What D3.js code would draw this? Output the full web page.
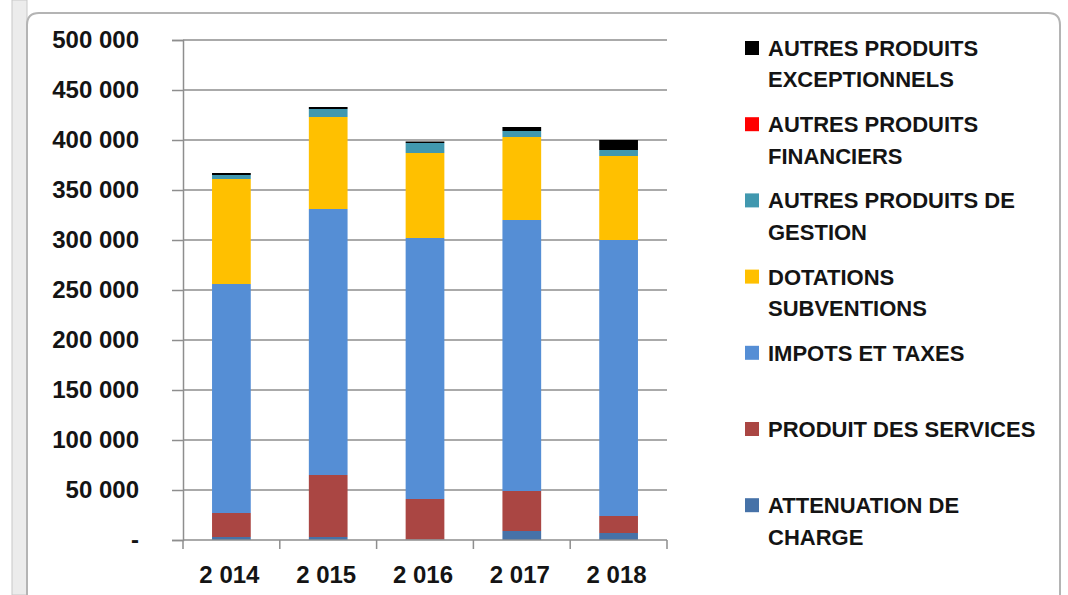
<!DOCTYPE html>
<html>
<head>
<meta charset="utf-8">
<script src="https://cdn.jsdelivr.net/npm/d3@7"></script>
<style>
  body { margin: 0; background: #fff; }
  text { font-family: "Liberation Sans", Arial, sans-serif; font-weight: bold; fill: #141414; }
</style>
</head>
<body>
<svg width="1068" height="595"></svg>
<script>
// data (bottom of the stack first)
var years = ["2 014", "2 015", "2 016", "2 017", "2 018"];
var attenuation = [3000, 3000, 500, 9000, 7000];
var services = [24000, 62000, 40500, 40000, 17000];
var impots = [229000, 266000, 261000, 271000, 276000];
var dotations = [105000, 92000, 85000, 83000, 84000];
var gestion = [4000, 8000, 10000, 6000, 6000];
var financiers = [0, 0, 0, 0, 0];
var exceptionnels = [2000, 2000, 1500, 4000, 10000];
var yTicks = [0, 50000, 100000, 150000, 200000, 250000, 300000, 350000, 400000, 450000, 500000];

var series = [
  { key: "att", lines: ["ATTENUATION DE", "CHARGE"], color: "#4672a8", values: attenuation },
  { key: "srv", lines: ["PRODUIT DES SERVICES"], color: "#aa4643", values: services },
  { key: "imp", lines: ["IMPOTS ET TAXES"], color: "#558ed5", values: impots },
  { key: "dot", lines: ["DOTATIONS", "SUBVENTIONS"], color: "#ffc000", values: dotations },
  { key: "ges", lines: ["AUTRES PRODUITS DE", "GESTION"], color: "#4198af", values: gestion },
  { key: "fin", lines: ["AUTRES PRODUITS", "FINANCIERS"], color: "#ff0000", values: financiers },
  { key: "exc", lines: ["AUTRES PRODUITS", "EXCEPTIONNELS"], color: "#000000", values: exceptionnels }
];

function main() {
  var svg = d3.select("svg");

  // frame of the chart object
  svg.append("rect").attr("x", 12).attr("y", 0).attr("width", 15).attr("height", 595)
    .attr("fill", "#ececec").attr("stroke", "#c8c8c8");
  svg.append("path")
    .attr("d", "M27,600 L27,25 Q27,13 39,13 L1048,13 Q1060,13 1060,25 L1060,600")
    .attr("fill", "#fff").attr("stroke", "#b4b4b4").attr("stroke-width", 2);

  var left = 183, right = 667, plotTop = 40, bottom = 540;

  var table = years.map(function(y, i) {
    var row = { year: y };
    series.forEach(function(s) { row[s.key] = s.values[i]; });
    return row;
  });

  var layers = d3.stack().keys(series.map(function(s) { return s.key; }))(table);

  var x = d3.scaleBand().domain(years).range([left, right]).paddingInner(0.6).paddingOuter(0.3);
  var y = d3.scaleLinear().domain([0, 500000]).range([bottom, plotTop]);

  var fmt = d3.formatLocale({ decimal: ",", thousands: " ", grouping: [3], currency: ["", " €"] }).format(",d");

  // gridlines
  svg.append("g").selectAll("line").data(yTicks.slice(1)).enter().append("line")
    .attr("x1", left).attr("x2", right)
    .attr("y1", function(d) { return y(d); }).attr("y2", function(d) { return y(d); })
    .attr("stroke", "#8e8e8e").attr("stroke-width", 1.5);

  // bars
  svg.append("g").selectAll("g").data(layers).enter().append("g")
    .attr("fill", function(d, i) { return series[i].color; })
    .selectAll("rect").data(function(d) { return d; }).enter().append("rect")
    .attr("x", function(d) { return x(d.data.year); })
    .attr("y", function(d) { return y(d[1]); })
    .attr("width", x.bandwidth())
    .attr("height", function(d) { return y(d[0]) - y(d[1]); });

  // y axis
  var gy = svg.append("g").attr("transform", "translate(" + left + ",0)")
    .call(d3.axisLeft(y).tickValues(yTicks).tickSize(11).tickPadding(33)
      .tickFormat(function(d) { return d === 0 ? "-" : fmt(d); }));
  gy.selectAll("line, path").attr("stroke", "#8e8e8e").attr("stroke-width", 1.5);
  gy.selectAll("text").attr("font-size", "24px").attr("fill", "#141414").attr("font-family", null);

  // x axis with ticks between the categories
  var gx = svg.append("g").attr("transform", "translate(0," + bottom + ")");
  gx.append("line").attr("x1", left).attr("x2", right).attr("y1", 0).attr("y2", 0)
    .attr("stroke", "#8e8e8e").attr("stroke-width", 1.5);
  var bounds = d3.range(years.length + 1).map(function(i) { return left + i * (right - left) / years.length; });
  gx.selectAll(".tk").data(bounds).enter().append("line")
    .attr("x1", function(d) { return d; }).attr("x2", function(d) { return d; })
    .attr("y1", 0).attr("y2", 9).attr("stroke", "#8e8e8e").attr("stroke-width", 1.5);
  gx.selectAll(".lab").data(years).enter().append("text")
    .attr("x", function(d) { return x(d) + x.bandwidth() / 2 - 2; })
    .attr("y", 43)
    .attr("text-anchor", "middle")
    .attr("font-size", "24px")
    .text(function(d) { return d; });

  // legend, top item is the top of the stack
  var legend = svg.append("g");
  series.slice().reverse().forEach(function(s, i) {
    var g = legend.append("g").attr("transform", "translate(745," + (48 + i * 76.2) + ")");
    g.append("rect").attr("x", 0).attr("y", -7).attr("width", 14).attr("height", 14).attr("fill", s.color);
    s.lines.forEach(function(t, j) {
      g.append("text").attr("x", 23).attr("y", j * 31.5).attr("dy", "0.36em")
        .attr("font-size", "22px").text(t);
    });
  });
}
main();
</script>
</body>
</html>
